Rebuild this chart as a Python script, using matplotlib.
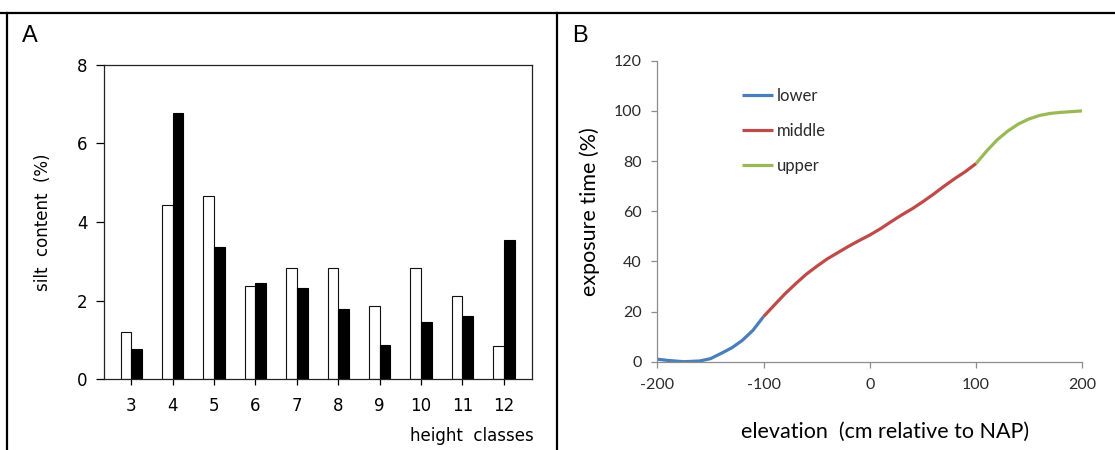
import matplotlib
matplotlib.use('Agg')
from matplotlib import pyplot as plt
from matplotlib.lines import Line2D
import numpy as np

plt.rcParams['axes.unicode_minus'] = False

# panel A: silt content per height class
height_classes = [3, 4, 5, 6, 7, 8, 9, 10, 11, 12]
silt_open = [1.20, 4.43, 4.65, 2.37, 2.82, 2.82, 1.85, 2.82, 2.11, 0.84]
silt_filled = [0.76, 6.77, 3.37, 2.45, 2.32, 1.78, 0.86, 1.44, 1.61, 3.54]

# panel B: exposure time vs elevation
lower_x = [-200, -190, -175, -160, -150, -140, -130, -120, -110, -100]
lower_y = [1.0, 0.5, 0.0, 0.3, 1.2, 3.3, 5.5, 8.5, 12.5, 18.0]
middle_x = [-100, -90, -80, -70, -60, -50, -40, -30, -20, -10, 0,
            10, 20, 30, 40, 50, 60, 70, 80, 90, 100]
middle_y = [18.0, 22.5, 27.0, 31.0, 34.8, 38.0, 41.0, 43.5, 46.0, 48.3, 50.5,
            53.0, 55.8, 58.5, 61.0, 63.8, 66.8, 70.0, 73.0, 75.8, 79.0]
upper_x = [100, 110, 120, 130, 140, 150, 160, 170, 180, 190, 200]
upper_y = [79.0, 84.0, 88.5, 92.0, 94.8, 96.8, 98.2, 99.0, 99.4, 99.7, 100.0]

W, H = 1115, 450
fig = plt.figure(figsize=(W / 100, H / 100), dpi=100)

# frame lines around the two panels
for xs, ys in [((0, 1), (1 - 13.3 / H,) * 2),
               ((7.3 / W,) * 2, (0, 1 - 13.3 / H)),
               ((557 / W,) * 2, (0, 1 - 13.3 / H))]:
    fig.add_artist(Line2D(xs, ys, transform=fig.transFigure, color='black', linewidth=1.6))

fig.text(22 / W, 1 - 42.3 / H, 'A', fontsize=17, family='Liberation Sans', va='baseline')
fig.text(572 / W, 1 - 42.3 / H, 'B', fontsize=17, family='Liberation Sans', va='baseline')

# ---- panel A
axA = fig.add_axes([104 / W, 1 - 379 / H, (532 - 104) / W, (379 - 65) / H])
x = np.array(height_classes)
w = 0.26
axA.bar(x - w / 2, silt_open, width=w, color='white', edgecolor='#111111', linewidth=0.8)
axA.bar(x + w / 2, silt_filled, width=w, color='black', edgecolor='black', linewidth=0.8)
axA.set_xlim(2.34, 12.68)
axA.set_ylim(0, 8)
axA.set_xticks(height_classes)
axA.set_yticks([0, 2, 4, 6, 8])
for s in axA.spines.values():
    s.set_linewidth(0.9)
    s.set_color('#222222')
axA.tick_params(axis='y', direction='out', length=6, width=0.9, pad=6, labelsize=12)
axA.tick_params(axis='x', direction='out', length=4, width=0.9, pad=9, labelsize=12)
axA.set_ylabel('silt  content  (%)', fontsize=12, labelpad=18)
axA.text(1.005, -0.18, 'height  classes', transform=axA.transAxes, ha='right', va='center',
         fontsize=12)

# ---- panel B
axB = fig.add_axes([657.3 / W, 1 - 361.7 / H, (1082.3 - 657.3) / W, (361.7 - 60.7) / H])
lw = 2.3
axB.plot(lower_x, lower_y, color='#4a7ebb', linewidth=lw, label='lower', solid_capstyle='butt')
axB.plot(middle_x, middle_y, color='#be4b48', linewidth=lw, label='middle', solid_capstyle='butt')
axB.plot(upper_x, upper_y, color='#98b954', linewidth=lw, label='upper', solid_capstyle='butt')
axB.set_xlim(-200, 200)
axB.set_ylim(0, 120)
axB.set_xticks([-200, -100, 0, 100, 200])
axB.set_yticks(range(0, 121, 20))
axB.spines['top'].set_visible(False)
axB.spines['right'].set_visible(False)
for s in ('left', 'bottom'):
    axB.spines[s].set_color('#8c8c8c')
    axB.spines[s].set_linewidth(0.9)
axB.tick_params(axis='both', direction='out', length=4, width=0.9, color='#8c8c8c',
                labelcolor='#2a2a2a', labelsize=11.5)
axB.tick_params(axis='x', pad=8)
axB.tick_params(axis='y', pad=7)
for lab in axB.get_xticklabels() + axB.get_yticklabels():
    lab.set_family('Lato')
axB.set_xlabel('elevation  (cm relative to NAP)', family='Lato', fontsize=15.5)
axB.xaxis.set_label_coords(0.535, -0.2)
axB.set_ylabel('exposure time (%)', family='Lato', fontsize=15.5, labelpad=10)
leg = axB.legend(loc='upper left', bbox_to_anchor=(0.199, 0.91), frameon=False,
                 handlelength=1.85, handletextpad=0.25, labelspacing=1.15, borderpad=0,
                 borderaxespad=0, prop={'family': 'Lato', 'size': 12})
for t in leg.get_texts():
    t.set_color('#2a2a2a')

fig.savefig('out.png', dpi=100)
